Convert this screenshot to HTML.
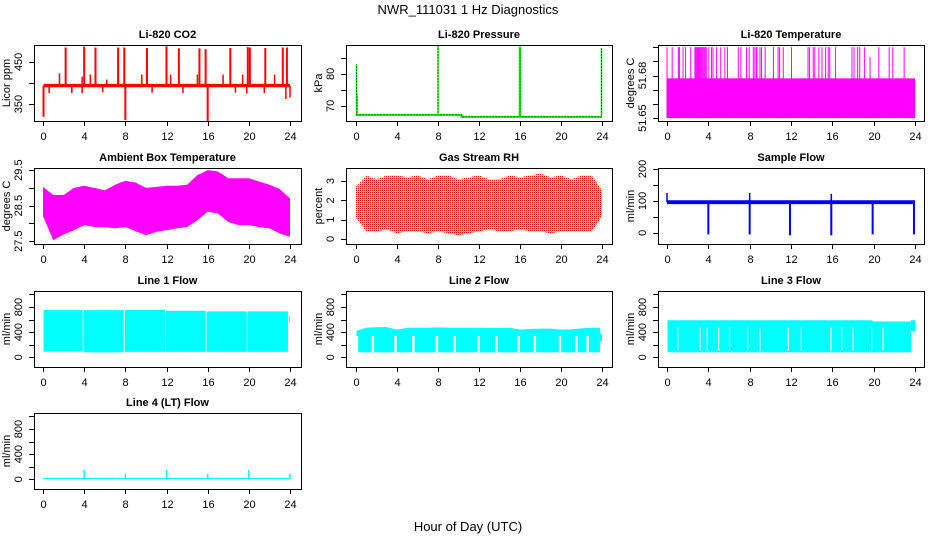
<!DOCTYPE html>
<html><head><meta charset="utf-8"><style>
html,body{margin:0;padding:0;background:#fff}
svg{display:block;font-family:"Liberation Sans",Arial,sans-serif}
</style></head><body>
<svg id="chart" width="936" height="540" viewBox="0 0 936 540" xmlns="http://www.w3.org/2000/svg">
<defs>
<pattern id="rhdots" width="2" height="2" patternUnits="userSpaceOnUse"><rect width="2" height="2" fill="#ffff00"/><rect width="1" height="1" fill="#ff0000"/></pattern>
</defs>
<text x="468" y="14" text-anchor="middle" font-size="13">NWR_111031 1 Hz Diagnostics</text>
<text x="468" y="531" text-anchor="middle" font-size="13">Hour of Day (UTC)</text>
</svg>
<script>
// ---- data ----
const hours = [0,1,2,3,4,5,6,7,8,9,10,11,12,13,14,15,16,17,18,19,20,21,22,23,24];
const xTicks = [0,4,8,12,16,20,24];

const co2Base = [390,398];
const co2UpT = [2.2,4.0,5.1,7.3,7.9,10.1,12.0,13.2,15.2,15.8,18.2,19.9,20.1,21.6,23.3,23.7];
const co2UpV = [484,486,484,484,484,483,487,482,482,480,483,485,484,483,484,484];
const co2SmallT = [1.6,3.8,4.6,6.2,9.6,12.4,15.0,17.5,19.4,22.5,0.6,2.8,3.8,5.8,10.6,13.6,18.7,19.8,21.5,23.6,24.0];
const co2SmallV = [423,415,420,408,420,420,420,420,420,420,376,376,376,378,377,376,377,375,376,362,366];
const co2DownT = [0.05,8.0,16.0];
const co2DownV = [320,312,310];

const presBaseT = [0.05,10.3,10.3,24];
const presBaseV = [67.2,67.2,66.6,66.6];
const presSpikeT = [0.05,0.1,8.0,15.95,16.0,23.95];
const presSpikeV = [83,73.5,89,88.5,88.5,88];

const tempBand = [51.65,51.678];
const tempSpikeT = [0,0.5,1.1,1.2,1.55,1.8,2.3,2.7,2.8,2.9,3.0,3.1,3.2,3.3,3.4,3.5,3.6,3.7,3.8,4.05,4.3,4.45,4.8,5.2,5.6,5.85,6.9,7.15,7.7,7.95,8.35,8.5,8.65,8.7,9.0,9.15,9.5,10.3,10.75,10.9,11.25,12.05,13.65,13.8,14.15,14.3,14.7,15.0,15.35,15.6,15.75,16.3,17.9,18.1,18.45,18.65,19.1,19.65,20.5,21.5,21.85,22.95];
const tempSpikeV = tempSpikeT.map((t)=> t===19.65 ? 51.693 : 51.70);

const ambHi = [29.03,28.8,28.8,29.0,29.06,29.0,28.93,29.09,29.2,29.15,29.0,29.03,29.06,29.06,29.09,29.36,29.5,29.46,29.27,29.27,29.27,29.18,29.09,28.97,28.7];
const ambLo = [28.2,27.53,27.69,27.81,27.95,27.9,27.9,27.86,27.9,27.78,27.67,27.76,27.81,27.86,27.9,28.09,28.33,28.28,28.04,27.95,27.95,27.9,27.86,27.72,27.62];

const rhHi = [2.7,3.3,3.1,3.3,3.3,3.2,3.3,3.1,3.3,3.3,3.1,3.2,3.3,3.1,3.1,3.3,3.2,3.3,3.4,3.2,3.3,3.1,3.3,3.3,2.5];
const rhLo = [1.1,0.4,0.4,0.5,0.3,0.4,0.4,0.3,0.4,0.3,0.2,0.3,0.4,0.5,0.4,0.4,0.5,0.4,0.4,0.3,0.4,0.4,0.4,0.4,1.2];

const sampleBand = [90,102];
const sampleDipT = [4,8,11.9,15.9,19.9,23.9];
const sampleDipV = [-5,-5,-8,-8,-5,-5];
const sampleSpikeT = [0,8,15.9];
const sampleSpikeV = [125,125,122];

const l1Start = [0.05,3.95,7.95,11.95,15.9,19.9,23.9];
const l1End = [3.85,7.85,11.85,15.8,19.8,23.8,24.0];
const l1Hi = [750,750,755,740,730,730,650];
const l1Lo = [90,80,85,85,85,85,550];

const l2T = [0.05,1,2,3,4,5,6,7,8,9,10,11,12,13,14,15,16,17,18,19,20,21,22,23,23.8];
const l2Hi = [420,470,480,480,440,470,470,470,475,470,470,470,470,465,465,470,440,450,455,455,440,445,460,470,470];
const l2Lo = [80,80,80,80,80,80,80,80,80,80,80,80,80,80,80,80,80,80,80,80,80,80,80,80,80];
const l2EndT = [23.8,24.0];
const l2EndHi = [400,350];
const l2EndLo = [250,250];
const l2GapT = [0.1,1.65,3.85,5.6,7.9,9.6,11.95,13.7,15.85,17.45,19.9,21.5,22.6];
const l2GapTop = 340;

const l3T = [0.05,1,2,3,4,5,6,7,8,9,10,11,12,13,14,15,16,17,18,19,19.8,20,21,22,23,23.6];
const l3Hi = [590,590,590,590,590,590,590,590,590,590,590,590,590,590,590,590,590,590,590,590,590,570,570,570,570,570];
const l3Lo = [80,80,80,80,80,80,80,80,80,80,80,80,80,80,80,80,80,80,80,80,80,80,80,80,80,80];
const l3EndT = [23.6,24.0];
const l3EndHi = [590,590];
const l3EndLo = [420,420];
const l3GapT = [1.05,3.2,3.9,5.0,6.05,7.8,9.0,11.75,13.0,15.85,16.9,18.0,19.8,20.9];
const l3GapTop = 470;

const l4Base = [5,20];
const l4SpikeT = [4,8,12,16,20,24];
const l4SpikeV = [150,90,150,80,150,80];

// ---- layout ----
const NS = 'http://www.w3.org/2000/svg';
const svg = document.getElementById('chart');
const cols = [{l:34,r:301,x0:43,x24:290},{l:346,r:612,x0:356,x24:602},{l:658,r:924,x0:667,x24:915}];
const rows = [45,168,291,413];
const PH = 76;

function mk(tag, parent, attrs){
  const e = document.createElementNS(NS, tag);
  for (const k in attrs) e.setAttribute(k, attrs[k]);
  parent.appendChild(e);
  return e;
}

function panel(key, ci, ri, ymin, ymax, yticks, ylabels, ytitle, title){
  const c = cols[ci], top = rows[ri], bot = top + PH;
  const g = mk('g', svg, {});
  
  
  const sx = h => c.x0 + h*(c.x24 - c.x0)/24;
  const sy = v => bot - (v - ymin)/(ymax - ymin)*PH;
  const cp = mk('clipPath', g, {id: 'clip-' + key});
  mk('rect', cp, {x:c.l, y:top, width:c.r-c.l, height:PH});
  const plot = mk('g', g, {'clip-path':'url(#clip-' + key + ')'});
  
  
  const t = mk('text', g, {x:(c.l+c.r)/2, y:top-7, 'text-anchor':'middle', 'font-size':'11', 'font-weight':'bold'});
  t.textContent = title;
  
  
  const ax = mk('g', g, {stroke:'#000', 'stroke-width':'1'});
  
  
  xTicks.forEach(h => {
    const x = Math.round(sx(h)) + 0.5;
    const tk = mk('line', ax, {x1:x, x2:x, y1:bot, y2:bot+5});
    
    const lb = mk('text', g, {x:x, y:bot+19, 'text-anchor':'middle', 'font-size':'11'});
    lb.textContent = h;
    
    
  });
  yticks.forEach(v => {
    const y = Math.round(sy(v)) + 0.5;
    const tk = mk('line', ax, {x1:c.l-5, x2:c.l, y1:y, y2:y});
    
  });
  ylabels.forEach(v => {
    const y = sy(v);
    const lb = mk('text', g, {x:0, y:0, 'text-anchor':'middle', 'font-size':'11', transform:`translate(${c.l-12},${y}) rotate(-90)`});
    lb.textContent = v;
    
    
  });
  const yt = mk('text', g, {x:0, y:0, 'text-anchor':'middle', 'font-size':'11', transform:`translate(${c.l-24},${top+PH/2}) rotate(-90)`});
  yt.textContent = ytitle;
  
  
  const box = mk('rect', g, {x:c.l+0.5, y:top+0.5, width:c.r-c.l, height:PH, fill:'none', stroke:'#000'});
  
  
  return {sx, sy, plot};
}

function band(p, name, ts, hi, lo, fill){
  let d = ts.map((t,i)=>`${i?'L':'M'}${p.sx(t)},${p.sy(hi[i])}`).join('');
  for (let i=ts.length-1;i>=0;i--) d += `L${p.sx(ts[i])},${p.sy(lo[i])}`;
  const e = mk('path', p.plot, {d:d+'Z', fill:fill});
  
  
  return e;
}
function vline(p, name, t, v0, v1, color, w, dash){
  const e = mk('line', p.plot, {x1:p.sx(t), x2:p.sx(t), y1:p.sy(v0), y2:p.sy(v1), stroke:color, 'stroke-width':w});
  if (dash) e.setAttribute('stroke-dasharray', dash);
  
  
  return e;
}

// CO2
const pC = panel('co2', 0, 0, 310, 490, [350,400,450], [350,450], 'Licor ppm', 'Li-820 CO2');
band(pC, 'co2-baseline', [0.05,24], [co2Base[1],co2Base[1]], [co2Base[0],co2Base[0]], '#ff0000');
co2SmallT.forEach((t,i)=>vline(pC, 'co2-small-spike', t, 394, co2SmallV[i], '#ff0000', 1.5));
co2UpT.forEach((t,i)=>vline(pC, 'co2-spike', t, 394, co2UpV[i], '#ff0000', 2));
co2DownT.forEach((t,i)=>vline(pC, 'co2-dip', t, 394, co2DownV[i], '#ff0000', 2));

// Pressure
const pP = panel('pressure', 1, 0, 65.3, 89, [70,75,80,85], [70,80], 'kPa', 'Li-820 Pressure');
let pd = presBaseT.map((t,i)=>`${i?'L':'M'}${pP.sx(t)},${pP.sy(presBaseV[i])}`).join('');
const pl = mk('path', pP.plot, {d:pd, fill:'none', stroke:'#00ff00', 'stroke-width':2});

const pl2 = mk('path', pP.plot, {d:pd, fill:'none', stroke:'#000', 'stroke-width':1, 'stroke-dasharray':'1,2'});

presSpikeT.forEach((t,i)=>{
  vline(pP, 'pressure-spike', t, 67, presSpikeV[i], '#00ff00', t===16.0?2:1.5);
  vline(pP, 'pressure-spike-dots', t, 67, presSpikeV[i], '#000', 1, '1,2');
});

// Li-820 temperature
const pT = panel('temperature', 2, 0, 51.648, 51.7015, [51.65,51.66,51.67,51.68,51.69,51.70], ['51.65','51.68'], 'degrees C', 'Li-820 Temperature');
band(pT, 'temperature-band', [0,24], [tempBand[1],tempBand[1]], [tempBand[0],tempBand[0]], '#ff00ff');
tempSpikeT.forEach((t,i)=>vline(pT, 'temperature-spike', t, tempBand[0], tempSpikeV[i], '#ff00ff', 1));

// Ambient
const pA = panel('ambient', 0, 1, 27.42, 29.56, [27.5,28,28.5,29,29.5], ['27.5','28.5','29.5'], 'degrees C', 'Ambient Box Temperature');
band(pA, 'ambient-band', hours, ambHi, ambLo, '#ff00ff');

// RH
const pR = panel('rh', 1, 1, -0.26, 3.68, [0,1,2,3], [0,1,2,3], 'percent', 'Gas Stream RH');
band(pR, 'rh-band', hours, rhHi, rhLo, 'url(#rhdots)');

// Sample flow
const pS = panel('sample', 2, 1, -35, 203, [0,50,100,150,200], [0,100,200], 'ml/min', 'Sample Flow');
band(pS, 'sample-band', [0,24], [sampleBand[1],sampleBand[1]], [sampleBand[0],sampleBand[0]], '#0000ff');
sampleDipT.forEach((t,i)=>vline(pS, 'sample-dip', t, 95, sampleDipV[i], '#0000ff', 2));
sampleSpikeT.forEach((t,i)=>vline(pS, 'sample-spike', t, 95, sampleSpikeV[i], '#0000ff', 1.5));

// Line 1
const flowTicks = [0,200,400,600,800,1000];
const p1 = panel('line1', 0, 2, -155, 1055, flowTicks, [0,400,800], 'ml/min', 'Line 1 Flow');
l1Start.forEach((s,i)=>band(p1, 'line1-segment', [s,l1End[i]], [l1Hi[i],l1Hi[i]], [l1Lo[i],l1Lo[i]], '#00ffff'));

// Line 2
const p2 = panel('line2', 1, 2, -155, 1055, flowTicks, [0,400,800], 'ml/min', 'Line 2 Flow');
band(p2, 'line2-band', l2T, l2Hi, l2Lo, '#00ffff');
band(p2, 'line2-end', l2EndT, l2EndHi, l2EndLo, '#00ffff');
l2GapT.forEach(t=>vline(p2, 'line2-gap', t, 60, l2GapTop, '#ffffff', 2.5));

// Line 3
const p3 = panel('line3', 2, 2, -155, 1055, flowTicks, [0,400,800], 'ml/min', 'Line 3 Flow');
band(p3, 'line3-band', l3T, l3Hi, l3Lo, '#00ffff');
band(p3, 'line3-end', l3EndT, l3EndHi, l3EndLo, '#00ffff');
l3GapT.forEach(t=>vline(p3, 'line3-gap', t, 100, l3GapTop, '#ffffff', 1.2));

// Line 4
const p4 = panel('line4', 0, 3, -155, 1055, flowTicks, [0,400,800], 'ml/min', 'Line 4 (LT) Flow');
band(p4, 'line4-band', [0,24], [l4Base[1],l4Base[1]], [l4Base[0],l4Base[0]], '#00ffff');
l4SpikeT.forEach((t,i)=>vline(p4, 'line4-spike', t, 10, l4SpikeV[i], '#00ffff', 1.5));
</script>
</body></html>
